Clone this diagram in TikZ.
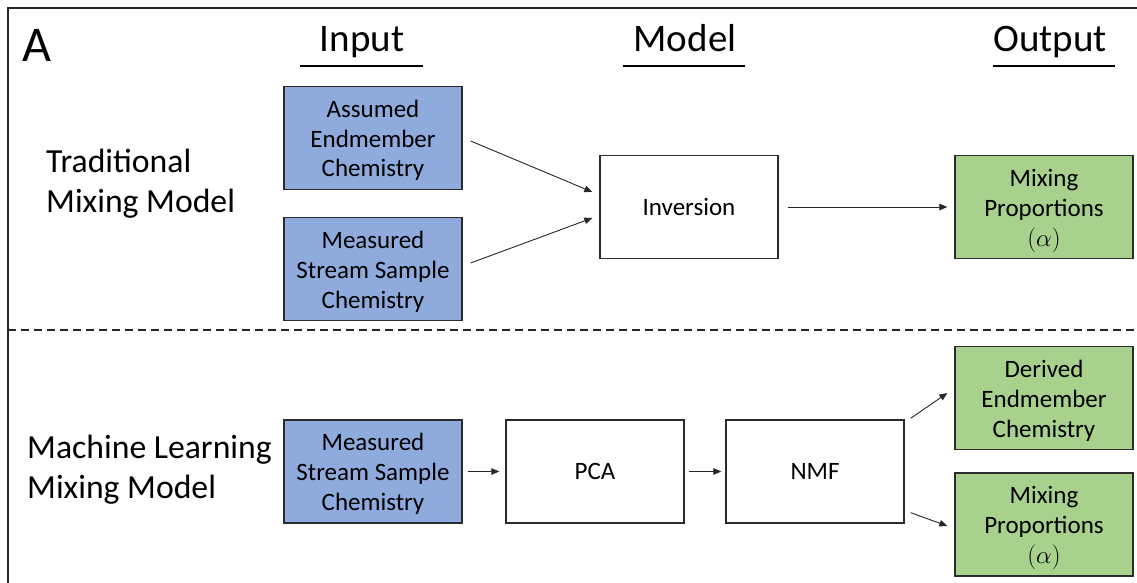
\documentclass[tikz,border=0pt]{standalone}
\usepackage{fontspec}
\setmainfont{Carlito}
\usetikzlibrary{arrows.meta}
\definecolor{inblue}{HTML}{8FAADC}
\definecolor{outgreen}{HTML}{A9D18E}
\definecolor{edge}{HTML}{2B2B2B}
\newcommand\boxlines[1]{\begin{tabular}{@{}c@{}}\rule{0pt}{27pt}#1\end{tabular}}
\tikzset{
  boxbase/.style={draw=edge, line width=1.3pt, minimum width=178pt, minimum height=103pt, inner sep=0pt,
    font=\fontsize{25}{30}\selectfont},
  inbox/.style={boxbase, fill=inblue},
  outbox/.style={boxbase, fill=outgreen},
  modbox/.style={boxbase, fill=white},
  hdr/.style={font=\fontsize{39}{44}\selectfont, anchor=base, inner sep=0pt},
  rowlbl/.style={font=\fontsize{33.7}{40}\selectfont, align=left, anchor=west, inner sep=0pt},
  conn/.style={draw=black!85, line width=0.9pt, -{Triangle[length=8pt,width=6.5pt]}},
  uline/.style={line width=2.6pt},
}
\begin{document}
\begin{tikzpicture}[x=1pt,y=-1pt]
\useasboundingbox (0,0) rectangle (1137,583);
\begin{scope}
\clip (0,0) rectangle (1137,583);
\draw[line width=1.5pt, black!85] (8,590) -- (8,8) -- (1145,8);
\draw[line width=1.5pt, black!85, dash pattern=on 8pt off 5pt] (8,330) -- (1145,330);
\end{scope}

\node[font=\fontsize{50}{56}\selectfont, anchor=base, inner sep=0pt] (lblA) at (37,62) {A};

\node[hdr] (hin) at (362,52) {Input};
\node[hdr] (hmod) at (685,52) {Model};
\node[hdr] (hout) at (1050,52) {Output};
\draw[uline] (300,66) -- (423,66);
\draw[uline] (623,66) -- (745,66);
\draw[uline] (993,66) -- (1115,66);

\node[rowlbl] (trad) at (46,184) {Traditional\\Mixing Model};
\node[rowlbl] (ml) at (27,470) {Machine Learning\\Mixing Model};

\node[inbox] (aem) at (373,138) {\boxlines{Assumed\\Endmember\\Chemistry}};
\node[inbox] (mtop) at (373,269) {\boxlines{Measured\\Stream Sample\\Chemistry}};
\node[modbox] (inv) at (689,207) {Inversion};
\node[outbox] (mixtop) at (1044,207) {\boxlines{Mixing\\Proportions\\$(\alpha)$}};

\node[inbox] (mbot) at (373,471.5) {\boxlines{Measured\\Stream Sample\\Chemistry}};
\node[modbox] (pca) at (595,471.5) {PCA};
\node[modbox] (nmf) at (815,471.5) {NMF};
\node[outbox] (der) at (1044,398) {\boxlines{Derived\\Endmember\\Chemistry}};
\node[outbox] (mixbot) at (1044,524.5) {\boxlines{Mixing\\Proportions\\$(\alpha)$}};

\draw[conn] ([xshift=8pt,yshift=-3pt]aem.east) -- ([xshift=-7pt,yshift=15pt]inv.west);
\draw[conn] ([xshift=8pt,yshift=6pt]mtop.east) -- ([xshift=-7pt,yshift=-11pt]inv.west);
\draw[conn] ([xshift=9pt]inv.east) -- ([xshift=-7pt]mixtop.west);
\draw[conn] ([xshift=5pt]mbot.east) -- ([xshift=-6pt]pca.west);
\draw[conn] ([xshift=4pt]pca.east) -- ([xshift=-4pt]nmf.west);
\draw[conn] ([xshift=6pt,yshift=1pt]nmf.north east) -- ([xshift=-7pt,yshift=5pt]der.west);
\draw[conn] ([xshift=6pt,yshift=11pt]nmf.south east) -- ([xshift=-7pt,yshift=-1.5pt]mixbot.west);
\end{tikzpicture}
\end{document}
